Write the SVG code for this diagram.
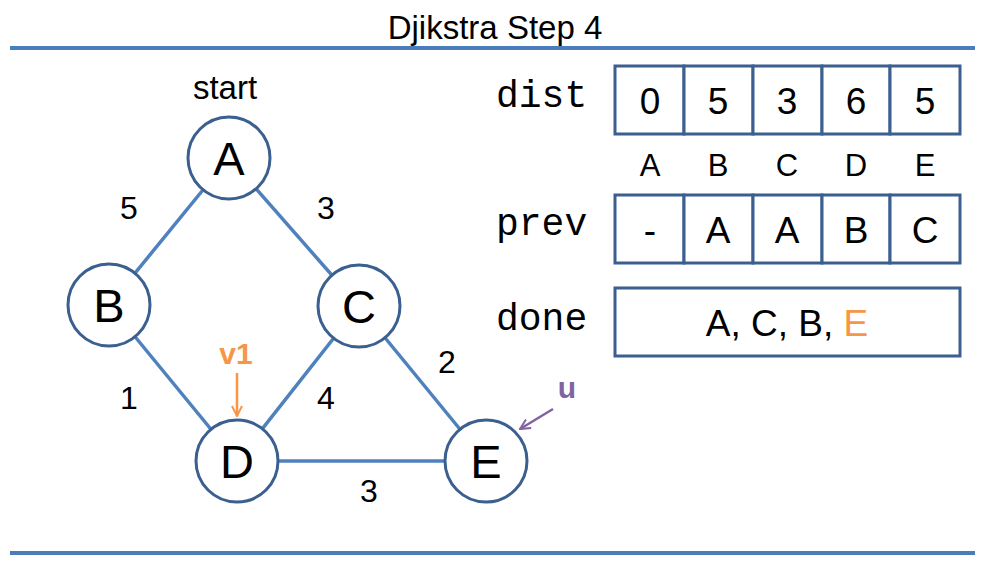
<svg xmlns="http://www.w3.org/2000/svg" width="990" height="570" viewBox="0 0 990 570">
<defs>
<style>
text{font-family:"Liberation Sans",Arial,sans-serif;fill:#000;text-anchor:middle}
.node circle{fill:#fff;stroke:#3b5f8f;stroke-width:3}
.node text{font-size:47px}
.edge{stroke:#4f81bd;stroke-width:3.5;fill:none}
.w{font-size:32px}
.mono{font-family:"Liberation Mono","Courier New",monospace;font-size:38px;text-anchor:start}
.cell{fill:#fff;stroke:#3b5f8f;stroke-width:3}
.val{font-size:37px}
.hdr{font-size:31px}
</style>
<marker id="ao" viewBox="0 0 12 12" refX="11" refY="6" markerWidth="12" markerHeight="12" markerUnits="userSpaceOnUse" orient="auto"><path d="M1,1 L11,6 L1,11" fill="none" stroke="#f79646" stroke-width="2"/></marker>
<marker id="ap" viewBox="0 0 12 12" refX="11" refY="6" markerWidth="12" markerHeight="12" markerUnits="userSpaceOnUse" orient="auto"><path d="M1,1 L11,6 L1,11" fill="none" stroke="#8064a2" stroke-width="2"/></marker>
</defs>
<rect width="990" height="570" fill="#fff"/>
<text x="495" y="39" style="font-size:33px">Djikstra Step 4</text>
<line x1="10" y1="48" x2="975" y2="48" stroke="#4a7ebb" stroke-width="4"/>
<line x1="10" y1="553" x2="975" y2="553" stroke="#4a7ebb" stroke-width="4"/>
<g id="connectors">
<line class="edge" x1="229" y1="158" x2="109" y2="305"/>
<line class="edge" x1="229" y1="158" x2="359" y2="306"/>
<line class="edge" x1="109" y1="305" x2="237" y2="461"/>
<line class="edge" x1="359" y1="306" x2="237" y2="461"/>
<line class="edge" x1="359" y1="306" x2="486" y2="461"/>
<line class="edge" x1="237" y1="461" x2="486" y2="461"/>
<text class="w" x="129" y="219">5</text>
<text class="w" x="326" y="219">3</text>
<text class="w" x="129" y="409">1</text>
<text class="w" x="326" y="409">4</text>
<text class="w" x="447" y="373">2</text>
<text class="w" x="369" y="502">3</text>
<line x1="237" y1="373" x2="237" y2="416" stroke="#f79646" stroke-width="2.5" marker-end="url(#ao)"/>
<line x1="553" y1="409" x2="520" y2="429" stroke="#8064a2" stroke-width="2.5" marker-end="url(#ap)"/>
</g>
<text x="225" y="99" style="font-size:33px">start</text>
<text x="236" y="364" style="font-size:30px;font-weight:bold;fill:#f79646">v1</text>
<text x="567" y="398" style="font-size:30px;font-weight:bold;fill:#8064a2">u</text>
<g id="A" class="node"><circle cx="229" cy="158" r="41"/><text x="229" y="175">A</text></g>
<g id="B" class="node"><circle cx="109" cy="305" r="41"/><text x="109" y="322">B</text></g>
<g id="C" class="node"><circle cx="359" cy="306" r="41"/><text x="359" y="323">C</text></g>
<g id="D" class="node"><circle cx="237" cy="461" r="41"/><text x="237" y="478">D</text></g>
<g id="E" class="node"><circle cx="486" cy="461" r="41"/><text x="486" y="478">E</text></g>
<g id="dist">
<text class="mono" x="496" y="107">dist</text>
<rect class="cell" x="615" y="66" width="69" height="68"/>
<rect class="cell" x="684" y="66" width="69" height="68"/>
<rect class="cell" x="753" y="66" width="69" height="68"/>
<rect class="cell" x="822" y="66" width="68" height="68"/>
<rect class="cell" x="890" y="66" width="70" height="68"/>
<text class="val" x="650" y="114">0</text>
<text class="val" x="718" y="114">5</text>
<text class="val" x="787" y="114">3</text>
<text class="val" x="856" y="114">6</text>
<text class="val" x="925" y="114">5</text>
</g>
<g id="hdr">
<text class="hdr" x="650" y="176">A</text>
<text class="hdr" x="718" y="176">B</text>
<text class="hdr" x="787" y="176">C</text>
<text class="hdr" x="856" y="176">D</text>
<text class="hdr" x="925" y="176">E</text>
</g>
<g id="prev">
<text class="mono" x="496" y="235">prev</text>
<rect class="cell" x="615" y="195" width="69" height="68"/>
<rect class="cell" x="684" y="195" width="69" height="68"/>
<rect class="cell" x="753" y="195" width="69" height="68"/>
<rect class="cell" x="822" y="195" width="68" height="68"/>
<rect class="cell" x="890" y="195" width="70" height="68"/>
<text class="val" x="650" y="243">-</text>
<text class="val" x="718" y="243">A</text>
<text class="val" x="787" y="243">A</text>
<text class="val" x="856" y="243">B</text>
<text class="val" x="925" y="243">C</text>
</g>
<g id="done">
<text class="mono" x="496" y="330">done</text>
<rect class="cell" x="615" y="288" width="345" height="68"/>
<text class="val" x="787" y="336">A, C, B, <tspan style="fill:#f79646">E</tspan></text>
</g>
</svg>
